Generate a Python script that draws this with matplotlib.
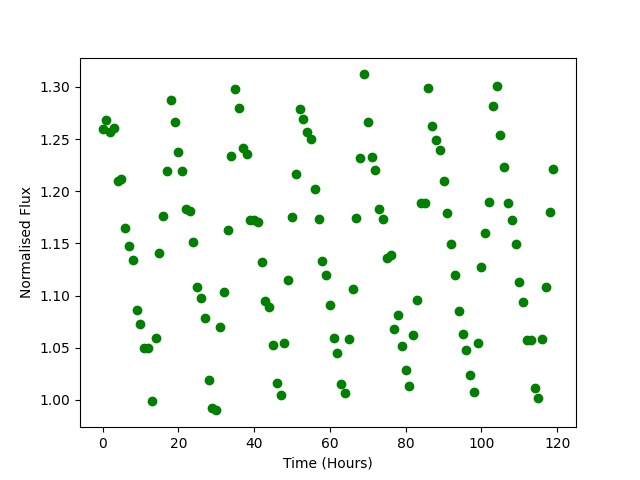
import numpy as np
import matplotlib
matplotlib.use('Agg')
import matplotlib.pyplot as plt

# time in hours, one reading per hour
time = np.arange(120)

flux = [1.260, 1.268, 1.257, 1.261, 1.210, 1.212, 1.165, 1.148, 1.134, 1.086,
        1.073, 1.050, 1.050, 0.999, 1.059, 1.141, 1.176, 1.219, 1.287, 1.266,
        1.238, 1.219, 1.183, 1.181, 1.151, 1.108, 1.098, 1.079, 1.019, 0.992,
        0.990, 1.070, 1.103, 1.163, 1.234, 1.298, 1.280, 1.241, 1.236, 1.172,
        1.172, 1.171, 1.132, 1.095, 1.089, 1.053, 1.016, 1.005, 1.055, 1.115,
        1.175, 1.217, 1.279, 1.269, 1.257, 1.250, 1.202, 1.173, 1.133, 1.120,
        1.091, 1.059, 1.045, 1.015, 1.007, 1.058, 1.106, 1.174, 1.232, 1.312,
        1.266, 1.233, 1.220, 1.183, 1.173, 1.136, 1.139, 1.068, 1.081, 1.052,
        1.029, 1.013, 1.062, 1.096, 1.189, 1.189, 1.299, 1.263, 1.249, 1.240,
        1.210, 1.179, 1.149, 1.120, 1.085, 1.063, 1.048, 1.024, 1.008, 1.055,
        1.127, 1.160, 1.190, 1.282, 1.301, 1.254, 1.223, 1.189, 1.172, 1.149,
        1.113, 1.094, 1.057, 1.057, 1.011, 1.002, 1.058, 1.108, 1.180, 1.221]

fig = plt.figure(figsize=(6.4, 4.8), dpi=100)
ax = fig.add_subplot(1, 1, 1)
ax.plot(time, flux, 'go')

plt.xlabel('Time (Hours)')
plt.ylabel('Normalised Flux')

plt.savefig('out.png')
